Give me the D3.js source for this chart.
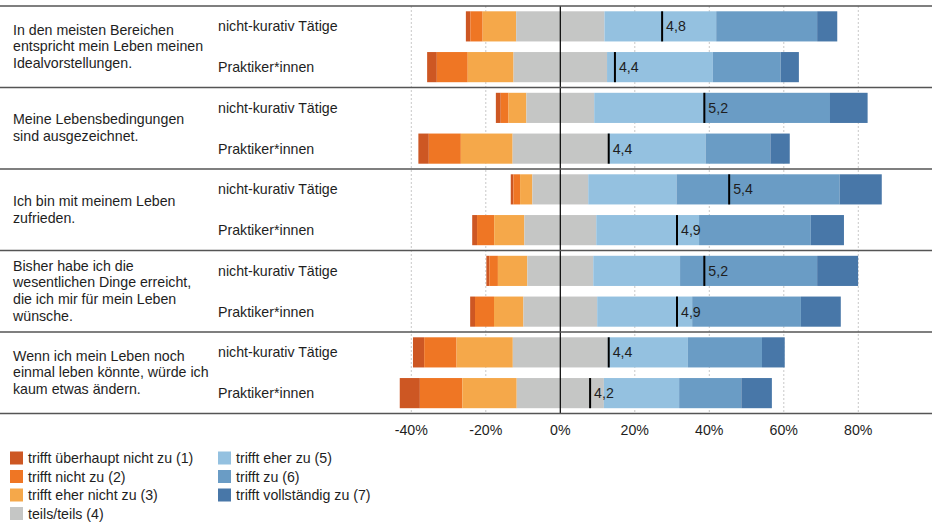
<!DOCTYPE html>
<html>
<head>
<meta charset="utf-8">
<script src="https://cdn.jsdelivr.net/npm/d3@7"></script>
<style>
  body { margin: 0; background: #fff; }
  text { font-family: "Liberation Sans", Arial, sans-serif; fill: #1e1e1e; font-size: 14.2px; }
</style>
</head>
<body>
<script>
// Data
const questions = [
  ["In den meisten Bereichen", "entspricht mein Leben meinen", "Idealvorstellungen."],
  ["Meine Lebensbedingungen", "sind ausgezeichnet."],
  ["Ich bin mit meinem Leben", "zufrieden."],
  ["Bisher habe ich die", "wesentlichen Dinge erreicht,", "die ich mir für mein Leben", "wünsche."],
  ["Wenn ich mein Leben noch", "einmal leben könnte, würde ich", "kaum etwas ändern."]
]
const groups = ["nicht-kurativ Tätige", "Praktiker*innen"]
const categories = [
  "trifft überhaupt nicht zu (1)", "trifft nicht zu (2)", "trifft eher nicht zu (3)",
  "teils/teils (4)", "trifft eher zu (5)", "trifft zu (6)", "trifft vollständig zu (7)"
]
const colors = ["#cd5723", "#ef7624", "#f5a84a", "#c5c6c5", "#94c1e0", "#6a9cc5", "#4877a8"]

// shares in % per row (question x group), categories 1..7
const shares = [
  [1.2, 3.3, 9.0, 23.7, 30.0, 27.1, 5.4],
  [2.6, 8.3, 12.3, 25.1, 28.4, 18.2, 4.9],
  [1.3, 2.1, 4.8, 18.2, 29.5, 33.8, 10.1],
  [2.8, 8.6, 13.9, 25.6, 26.2, 17.4, 5.2],
  [0.7, 1.8, 3.3, 15.0, 23.7, 43.8, 11.3],
  [1.3, 4.6, 8.1, 19.3, 27.6, 30.0, 8.9],
  [0.8, 2.3, 7.9, 17.7, 23.3, 36.8, 11.0],
  [1.3, 5.1, 7.9, 19.8, 25.5, 29.2, 10.7],
  [3.0, 8.7, 15.1, 25.5, 21.5, 19.9, 6.1],
  [5.4, 11.4, 14.6, 23.4, 20.2, 16.7, 8.2]
]
const means = [4.82, 4.44, 5.16, 4.39, 5.36, 4.94, 5.16, 4.94, 4.39, 4.24]
const ticks = [-40, -20, 0, 20, 40, 60, 80]

const width = 932
const height = 523
const plotTop = 6
const plotBottom = 413.5

const svg = d3.select("body").append("svg")
  .attr("width", width)
  .attr("height", height)

// Scales
const x = d3.scaleLinear().domain([-40, 80]).range([411.3, 858.3])
const meanX = d3.scaleLinear().domain([4, 7]).range([x(0), x(100)]) // mean 4 -> 0%, 7 -> 100%
const yQ = d3.scaleBand().domain(d3.range(questions.length)).range([plotTop, plotBottom])
const yG = d3.scaleBand().domain(d3.range(groups.length))
  .range([0, yQ.bandwidth()]).paddingInner(0.26).paddingOuter(0.13)

// Gridlines
svg.append("g").selectAll("line")
  .data(ticks.filter(t => t !== 0))
  .enter().append("line")
  .attr("x1", d => x(d)).attr("x2", d => x(d))
  .attr("y1", plotTop).attr("y2", plotBottom)
  .attr("stroke", "#c8c8c8")
  .attr("stroke-dasharray", "2,2")

// Rows: stack centred on the middle of "teils/teils"
const rows = shares.map((s, i) => {
  let start = -(s[0] + s[1] + s[2] + s[3] / 2)
  const segs = s.map((v, k) => {
    const seg = { k, x0: start, x1: start + v }
    start += v
    return seg
  })
  return { i, q: Math.floor(i / groups.length), g: i % groups.length, segs, mean: means[i] }
})

const rowG = svg.append("g").selectAll("g")
  .data(rows)
  .enter().append("g")
  .attr("transform", d => `translate(0, ${yQ(d.q) + yG(d.g)})`)

rowG.selectAll("rect")
  .data(d => d.segs)
  .enter().append("rect")
  .attr("x", d => x(d.x0))
  .attr("width", d => x(d.x1) - x(d.x0))
  .attr("y", 0)
  .attr("height", yG.bandwidth())
  .attr("fill", d => colors[d.k])

// Zero line
svg.append("line")
  .attr("x1", x(0)).attr("x2", x(0))
  .attr("y1", plotTop).attr("y2", plotBottom)
  .attr("stroke", "#000")
  .attr("stroke-width", 1.2)

// Mean markers
rowG.append("line")
  .attr("x1", d => meanX(d.mean)).attr("x2", d => meanX(d.mean))
  .attr("y1", 0).attr("y2", yG.bandwidth())
  .attr("stroke", "#000")
  .attr("stroke-width", 2)

rowG.append("text")
  .attr("x", d => meanX(d.mean) + 4)
  .attr("y", yG.bandwidth() / 2 + 5)
  .text(d => d3.format(".1f")(d.mean).replace(".", ","))

// Group labels
rowG.append("text")
  .attr("x", 218)
  .attr("y", yG.bandwidth() / 2 + 5)
  .text(d => groups[d.g])

// Question labels
const qText = svg.append("g").selectAll("text")
  .data(questions)
  .enter().append("text")
  .attr("transform", (d, i) => `translate(13, ${yQ(i) + yQ.bandwidth() / 2 - (d.length - 1) * 8.3 + 4.5})`)

qText.selectAll("tspan")
  .data(d => d)
  .enter().append("tspan")
  .attr("x", 0)
  .attr("y", (d, j) => j * 16.6)
  .text(d => d)

// Separators
svg.append("g").selectAll("line")
  .data(d3.range(questions.length + 1))
  .enter().append("line")
  .attr("x1", 0).attr("x2", width)
  .attr("y1", d => plotTop + d * yQ.step()).attr("y2", d => plotTop + d * yQ.step())
  .attr("stroke", "#555")
  .attr("stroke-width", 1.5)

// Axis labels
svg.append("g").selectAll("text")
  .data(ticks)
  .enter().append("text")
  .attr("x", d => x(d))
  .attr("y", 435)
  .attr("text-anchor", "middle")
  .text(d => d + "%")

// Legend
const legend = svg.append("g").selectAll("g")
  .data(categories)
  .enter().append("g")
  .attr("transform", (d, i) => i < 4
    ? `translate(10, ${451.5 + i * 18.5})`
    : `translate(218, ${451.5 + (i - 4) * 18.5})`)

legend.append("rect")
  .attr("width", 13).attr("height", 13)
  .attr("fill", (d, i) => colors[i])

legend.append("text")
  .attr("x", 18)
  .attr("y", 11.5)
  .text(d => d)
</script>
</body>
</html>
